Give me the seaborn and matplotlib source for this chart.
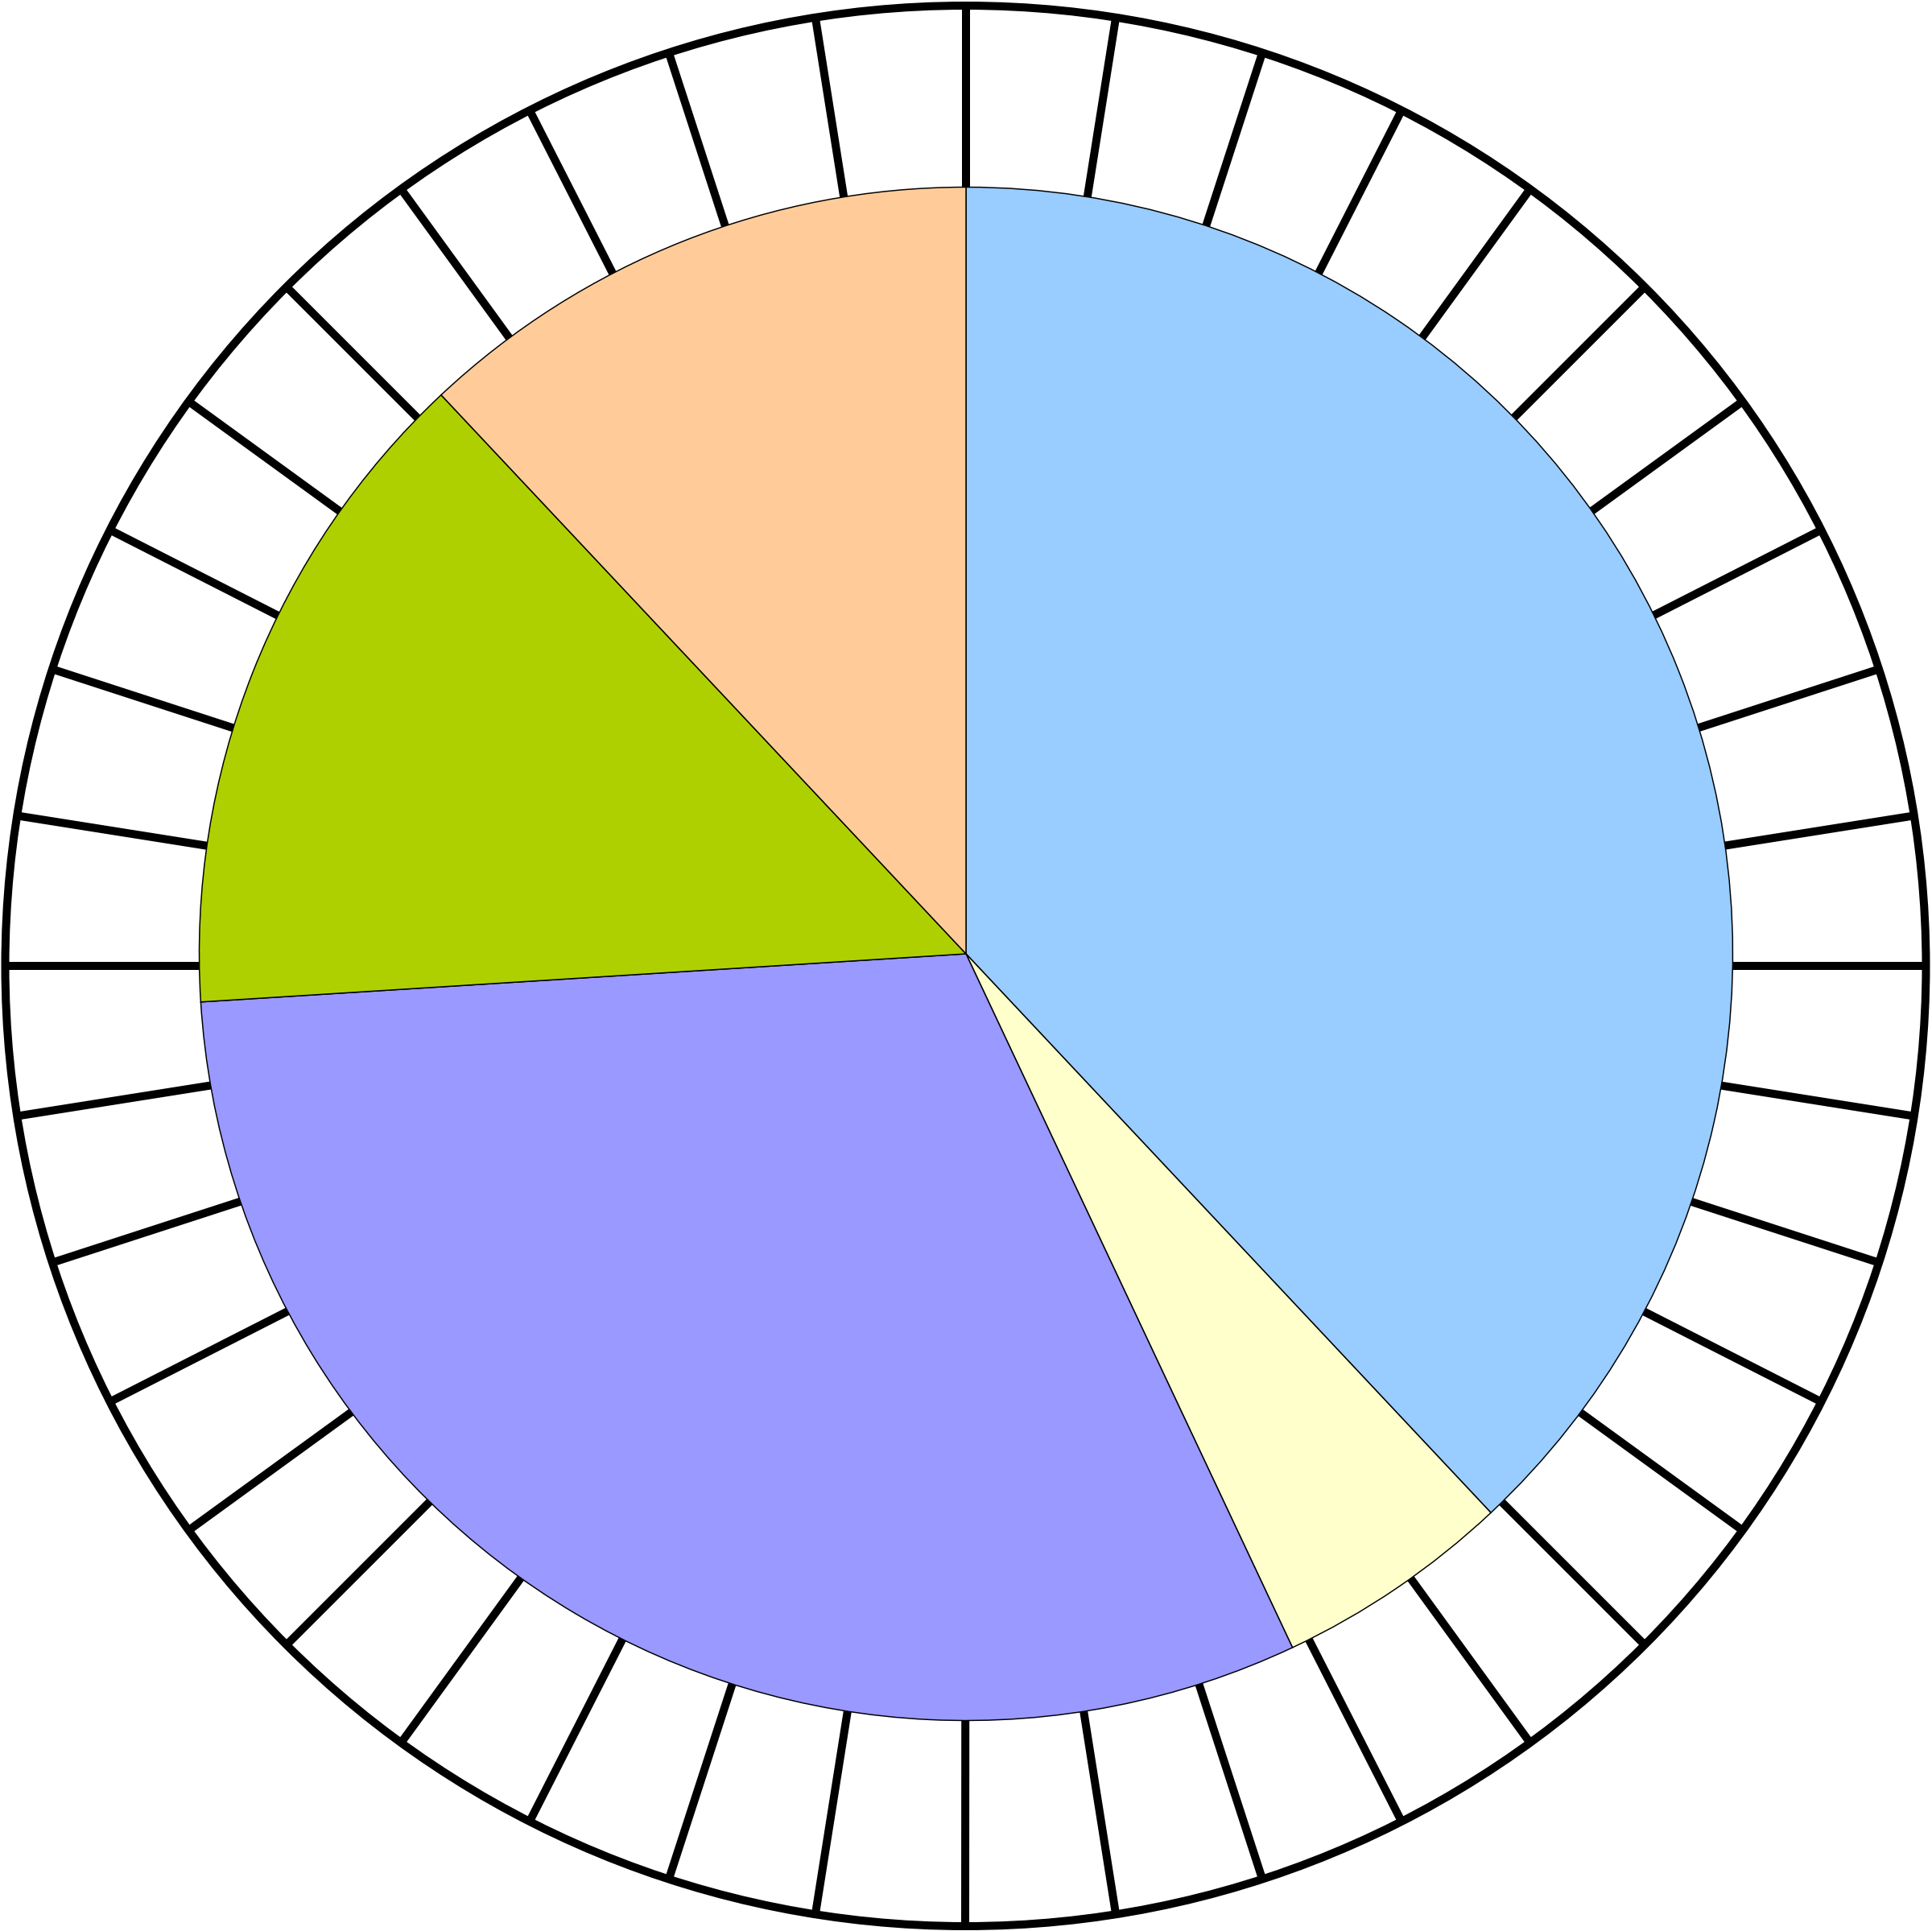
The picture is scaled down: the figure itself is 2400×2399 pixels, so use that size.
"""Pie chart inside a spoked dial"""

import numpy as np
import matplotlib
matplotlib.use('Agg')
import matplotlib.pyplot as plt
from matplotlib.patches import Circle
import seaborn as sns

sns.set_theme(style='white')

# data
shares = [38, 5, 31, 14, 12]
slice_colors = ['#99CCFF', '#FFFFCC', '#9999FF', '#AFD000', '#FFCC99']
n_spokes = 40

W, H = 2400, 2399
fig = plt.figure(figsize=(W / 100, H / 100), dpi=100)
ax = fig.add_axes([0, 0, 1, 1])
ax.set_xlim(0, W)
ax.set_ylim(0, H)
ax.set_aspect('equal')
ax.axis('off')

px = 72 / 100  # pixel -> points

# dial (outer ring + spokes), drawn beneath the pie
ring_c = (1199.5, H - 1200)
ring_r = 1193
for ang in np.arange(n_spokes) * 360 / n_spokes:
    t = np.deg2rad(ang)
    ax.plot([ring_c[0], ring_c[0] + ring_r * np.cos(t)],
            [ring_c[1], ring_c[1] + ring_r * np.sin(t)],
            color='black', lw=10 * px, solid_capstyle='butt', zorder=1)
ax.add_patch(Circle(ring_c, ring_r, fill=False, ec='black', lw=10 * px, zorder=3))

# pie
ax.pie(shares, colors=slice_colors, startangle=90, counterclock=False,
       center=(1200, H - 1185), radius=952.5, frame=True,
       wedgeprops=dict(edgecolor='black', linewidth=1.5 * px, zorder=2))
ax.set_xlim(0, W)
ax.set_ylim(0, H)
ax.axis('off')

plt.savefig('out.png', dpi=100, facecolor='white')
plt.close()
